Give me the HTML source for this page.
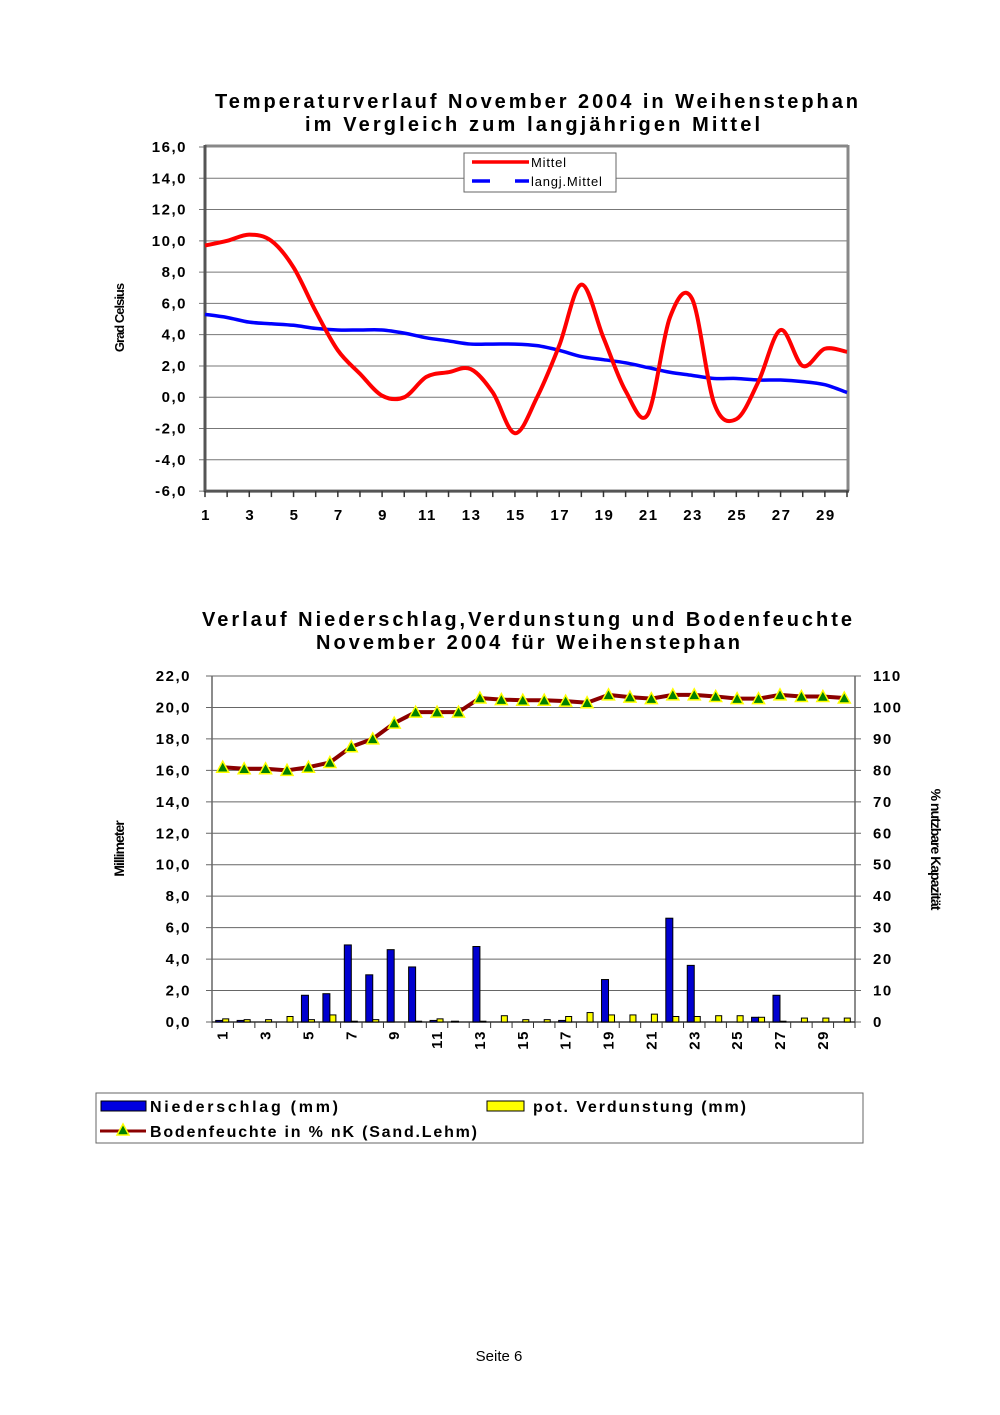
<!DOCTYPE html>
<html><head><meta charset="utf-8"><style>
html,body{margin:0;padding:0;background:#fff;}
svg{display:block;font-family:"Liberation Sans",Arial,sans-serif;}
.t{font-weight:bold;font-size:20px;fill:#000;}
.tk{font-weight:bold;font-size:15px;fill:#000;letter-spacing:1.5px;}
.lg{font-weight:bold;font-size:16px;}
</style></head><body>
<svg id="s" width="1000" height="1415" viewBox="0 0 1000 1415" xmlns="http://www.w3.org/2000/svg">
<rect width="1000" height="1415" fill="#fff"/>
<text class="t" x="215" y="108" textLength="643" lengthAdjust="spacing">Temperaturverlauf November 2004 in Weihenstephan</text>
<text class="t" x="305" y="131" textLength="455" lengthAdjust="spacing">im Vergleich zum langjährigen Mittel</text>
<g id="c1"></g>
<text transform="translate(124,318) rotate(-90)" text-anchor="middle" font-size="13" font-weight="bold" letter-spacing="-1">Grad Celsius</text>
<rect x="464" y="153" width="152" height="39" fill="#fff" stroke="#666" stroke-width="1"/>
<line x1="472" y1="162" x2="529" y2="162" stroke="#f00" stroke-width="3.5"/>
<text x="531" y="167" font-size="13" letter-spacing="0.8">Mittel</text>
<line x1="472" y1="181" x2="490" y2="181" stroke="#00f" stroke-width="3.5"/>
<line x1="515" y1="181" x2="529" y2="181" stroke="#00f" stroke-width="3.5"/>
<text x="531" y="186" font-size="13" letter-spacing="0.8">langj.Mittel</text>

<text class="t" x="202" y="626" textLength="650" lengthAdjust="spacing">Verlauf Niederschlag,Verdunstung und Bodenfeuchte</text>
<text class="t" x="316" y="649" textLength="424" lengthAdjust="spacing">November 2004 für Weihenstephan</text>
<g id="c2"></g>
<text transform="translate(124,849) rotate(-90)" text-anchor="middle" font-size="14" font-weight="bold" letter-spacing="-1">Millimeter</text>
<text transform="translate(931,849) rotate(90)" text-anchor="middle" font-size="14" font-weight="bold" letter-spacing="-1">% nutzbare Kapazität</text>

<rect x="96" y="1093" width="767" height="50" fill="#fff" stroke="#666" stroke-width="1"/>
<rect x="101" y="1101" width="45" height="10" fill="#0000e0" stroke="#000"/>
<text class="lg" x="150" y="1112" textLength="188" lengthAdjust="spacing">Niederschlag (mm)</text>
<rect x="487" y="1101" width="37" height="10" fill="#ff0" stroke="#000"/>
<text class="lg" x="533" y="1112" textLength="213" lengthAdjust="spacing">pot. Verdunstung (mm)</text>
<line x1="100" y1="1131" x2="146" y2="1131" stroke="#8b0000" stroke-width="3"/>
<polygon points="123,1124 117,1135 129,1135" fill="#008000" stroke="#ff0" stroke-width="1.5"/>
<text class="lg" x="150" y="1137" textLength="327" lengthAdjust="spacing">Bodenfeuchte in % nK (Sand.Lehm)</text>

<text x="499" y="1361" text-anchor="middle" font-size="15">Seite 6</text>
</svg>
<script>
var NS="http://www.w3.org/2000/svg";
function el(p,t,a,txt){var e=document.createElementNS(NS,t);for(var k in a)e.setAttribute(k,a[k]);if(txt!==undefined)e.textContent=txt;p.appendChild(e);return e;}
function smooth(pts){var d="M"+pts[0][0]+","+pts[0][1];for(var i=0;i<pts.length-1;i++){var p0=pts[i-1]||pts[i],p1=pts[i],p2=pts[i+1],p3=pts[i+2]||p2;var c1=[p1[0]+(p2[0]-p0[0])/6,p1[1]+(p2[1]-p0[1])/6],c2=[p2[0]-(p3[0]-p1[0])/6,p2[1]-(p3[1]-p1[1])/6];d+="C"+c1+" "+c2+" "+p2;}return d;}
var g=document.getElementById("c1");
var X0=205,XR=847,dx=(XR-X0)/29,Y16=147,pu=15.64;
function y1(v){return Y16+(16-v)*pu;}
for(var v=-6;v<=16;v+=2){var y=y1(v);el(g,"line",{x1:X0-6,y1:y,x2:XR,y2:y,stroke:"#777","stroke-width":1});el(g,"text",{x:187,y:y+5,"text-anchor":"end","class":"tk"},v.toFixed(1).replace(".",","));}
el(g,"line",{x1:X0,y1:Y16-1,x2:XR+1,y2:Y16-1,stroke:"#888","stroke-width":3});
el(g,"line",{x1:XR+1,y1:Y16-2,x2:XR+1,y2:y1(-6),stroke:"#888","stroke-width":3});
el(g,"line",{x1:X0,y1:Y16-2,x2:X0,y2:y1(-6)+1,stroke:"#555","stroke-width":3});
el(g,"line",{x1:X0,y1:y1(-6),x2:XR+2,y2:y1(-6),stroke:"#555","stroke-width":3});
for(var i=0;i<30;i++){var x=X0+i*dx;el(g,"line",{x1:x,y1:y1(-6),x2:x,y2:y1(-6)+6,stroke:"#333","stroke-width":1.5});if(i%2==0)el(g,"text",{x:x+1,y:520,"text-anchor":"middle","class":"tk"},i+1);}
var lm=[5.3,5.1,4.8,4.7,4.6,4.4,4.3,4.3,4.3,4.1,3.8,3.6,3.4,3.4,3.4,3.3,3.0,2.6,2.4,2.2,1.9,1.6,1.4,1.2,1.2,1.1,1.1,1.0,0.8,0.3];
var mi=[9.7,10.0,10.4,10.0,8.3,5.5,3.0,1.5,0.1,0.0,1.3,1.6,1.8,0.3,-2.3,0.0,3.3,7.2,3.8,0.4,-1.1,5.1,6.3,-0.4,-1.4,1.0,4.3,2.0,3.1,2.9];
el(g,"path",{d:smooth(lm.map(function(v,i){return[X0+i*dx,y1(v)]})),fill:"none",stroke:"#0000ff","stroke-width":3.5});
el(g,"path",{d:smooth(mi.map(function(v,i){return[X0+i*dx,y1(v)]})),fill:"none",stroke:"#ff0000","stroke-width":4});
g=document.getElementById("c2");
var A=212,B=855,cw=(B-A)/30,T=676,Z=1022,mu=(Z-T)/22;
function y2(v){return Z-v*mu;}function yp(p){return Z-p*(Z-T)/110;}
for(var v=0;v<=22;v+=2){var y=y2(v);el(g,"line",{x1:A-6,y1:y,x2:B+6,y2:y,stroke:"#666","stroke-width":1});el(g,"text",{x:191,y:y+5,"text-anchor":"end","class":"tk"},v.toFixed(1).replace(".",","));el(g,"text",{x:873,y:y+5,"class":"tk"},v*5);}
el(g,"line",{x1:A,y1:T,x2:A,y2:Z,stroke:"#666","stroke-width":1.5});
el(g,"line",{x1:B,y1:T,x2:B,y2:Z,stroke:"#666","stroke-width":1.5});
el(g,"line",{x1:A,y1:Z,x2:B,y2:Z,stroke:"#333","stroke-width":1.5});
var ns=[0.1,0.1,0,0,1.7,1.8,4.9,3.0,4.6,3.5,0.1,0.05,4.8,0,0,0,0.1,0,2.7,0,0,6.6,3.6,0,0,0.3,1.7,0,0,0];
var vd=[0.2,0.15,0.15,0.35,0.15,0.45,0.05,0.15,0,0.05,0.2,0,0.05,0.4,0.15,0.15,0.35,0.6,0.45,0.45,0.5,0.35,0.35,0.4,0.4,0.3,0.05,0.25,0.25,0.25];
var bf=[81,80.5,80.5,80,81,82.5,87.5,90,95,98.5,98.5,98.5,103,102.5,102.3,102.3,102,101.5,104,103.3,102.8,104,104,103.5,102.8,102.8,104,103.5,103.5,103];
for(var i=0;i<=30;i++){var x=A+i*cw;el(g,"line",{x1:x,y1:Z,x2:x,y2:Z+6,stroke:"#333","stroke-width":1});}
for(var i=0;i<30;i++){var c=A+(i+0.5)*cw;
 if(ns[i]>0)el(g,"rect",{x:c-7,y:y2(ns[i]),width:7,height:ns[i]*mu,fill:"#0000d0",stroke:"#000","stroke-width":1});
 if(vd[i]>0)el(g,"rect",{x:c,y:y2(vd[i]),width:6,height:vd[i]*mu,fill:"#ffff00",stroke:"#000","stroke-width":1});
 if(i%2==0)el(g,"text",{transform:"translate("+(c+5)+",1030) rotate(-90)","text-anchor":"end","class":"tk"},i+1);}
var pts=bf.map(function(p,i){return[A+(i+0.5)*cw,yp(p)]});
el(g,"polyline",{points:pts.map(function(p){return p.join(",")}).join(" "),fill:"none",stroke:"#8b0000","stroke-width":4});
pts.forEach(function(p){el(g,"polygon",{points:(p[0])+","+(p[1]-6)+" "+(p[0]-6)+","+(p[1]+5)+" "+(p[0]+6)+","+(p[1]+5),fill:"#008000",stroke:"#ff0","stroke-width":1.5});});
</script>
</body></html>
